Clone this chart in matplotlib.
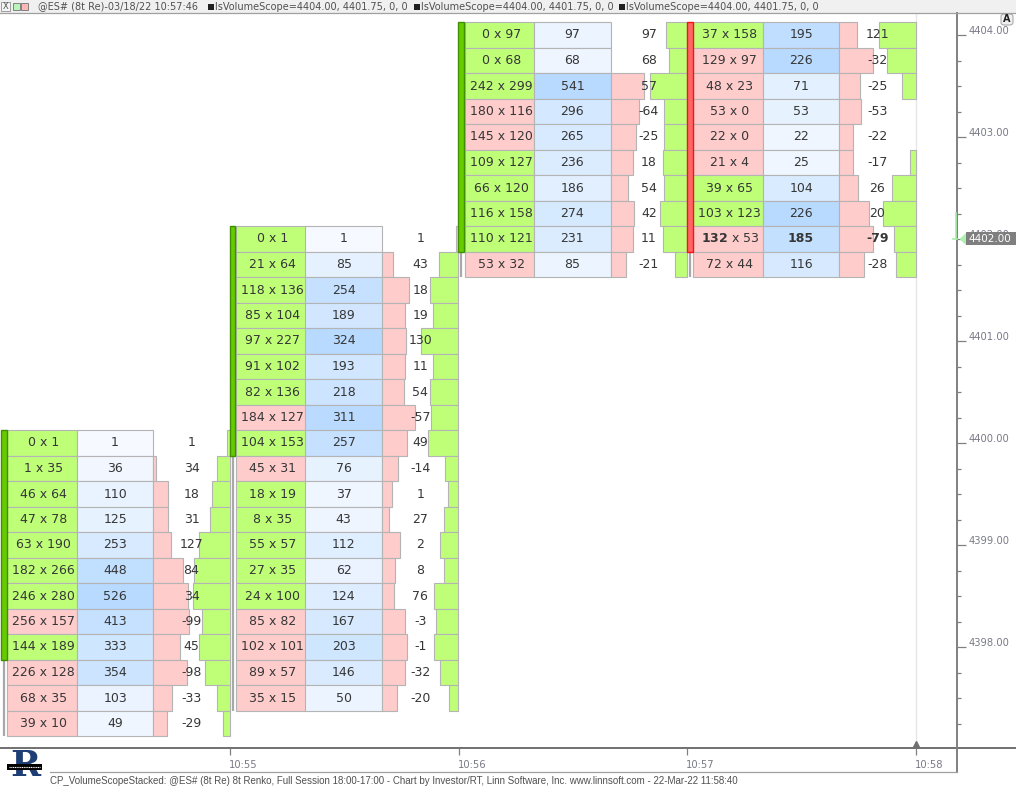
import matplotlib
matplotlib.use("Agg")
import matplotlib.pyplot as plt
from matplotlib.patches import Rectangle, Polygon, FancyBboxPatch
from matplotlib.lines import Line2D
import matplotlib.transforms as mtransforms
import numpy as np

# ---------------- data ----------------
col_minutes = [0, 1, 2, 3]          # minutes after 10:54
col_top_price = [4400.00, 4402.00, 4404.00, 4404.00]

col1_bid = [0, 1, 46, 47, 63, 182, 246, 256, 144, 226, 68, 39]
col1_ask = [1, 35, 64, 78, 190, 266, 280, 157, 189, 128, 35, 10]
col1_vol = [1, 36, 110, 125, 253, 448, 526, 413, 333, 354, 103, 49]
col1_delta = [1, 34, 18, 31, 127, 84, 34, -99, 45, -98, -33, -29]

col2_bid = [0, 21, 118, 85, 97, 91, 82, 184, 104, 45, 18, 8, 55, 27, 24, 85, 102, 89, 35]
col2_ask = [1, 64, 136, 104, 227, 102, 136, 127, 153, 31, 19, 35, 57, 35, 100, 82, 101, 57, 15]
col2_vol = [1, 85, 254, 189, 324, 193, 218, 311, 257, 76, 37, 43, 112, 62, 124, 167, 203, 146, 50]
col2_delta = [1, 43, 18, 19, 130, 11, 54, -57, 49, -14, 1, 27, 2, 8, 76, -3, -1, -32, -20]

col3_bid = [0, 0, 242, 180, 145, 109, 66, 116, 110, 53]
col3_ask = [97, 68, 299, 116, 120, 127, 120, 158, 121, 32]
col3_vol = [97, 68, 541, 296, 265, 236, 186, 274, 231, 85]
col3_delta = [97, 68, 57, -64, -25, 18, 54, 42, 11, -21]

col4_bid = [37, 129, 48, 53, 22, 21, 39, 103, 132, 72]
col4_ask = [158, 97, 23, 0, 0, 4, 65, 123, 53, 44]
col4_vol = [195, 226, 71, 53, 22, 25, 104, 226, 185, 116]
col4_delta = [121, -32, -25, -53, -22, -17, 26, 20, -79, -28]

candle_open = [4398.00, 4400.00, 4402.00, 4404.00]
candle_close = [4400.00, 4402.00, 4404.00, 4402.00]
candle_high = [4400.00, 4402.00, 4404.00, 4404.00]
candle_low = [4397.25, 4397.50, 4401.75, 4401.75]

last_price = 4402.00
tick_size = 0.25

x_tick_pos = [1, 2, 3, 4]
x_tick_labels = ["10:55", "10:56", "10:57", "10:58"]
y_major = [4398.0, 4399.0, 4400.0, 4401.0, 4402.0, 4403.0, 4404.0]

header_title = "@ES# (8t Re)-03/18/22 10:57:46"
header_study = "lsVolumeScope=4404.00, 4401.75, 0, 0"
footer_text = ("CP_VolumeScopeStacked: @ES# (8t Re) 8t Renko, Full Session 18:00-17:00 - "
               "Chart by Investor/RT, Linn Software, Inc. www.linnsoft.com - 22-Mar-22 11:58:40")

columns = [
    (col1_bid, col1_ask, col1_vol, col1_delta),
    (col2_bid, col2_ask, col2_vol, col2_delta),
    (col3_bid, col3_ask, col3_vol, col3_delta),
    (col4_bid, col4_ask, col4_vol, col4_delta),
]

# ---------------- geometry / style ----------------
W, H = 1016, 789
PX_PER_MIN = 228.67
X0_PX = 1.33            # pixel of 10:54
PX_PER_PT = 102.0       # pixels per price point
Y_REF_PX, Y_REF = 35.0, 4404.0
AX_L, AX_R, AX_T, AX_B = 0.0, 957.0, 12.7, 747.7

GREEN = "#bfff78"
PINK = "#ffcccc"
EDGE = "#b4b4b4"
TXT = "#363636"
AXC = "#808080"

def fx(px):
    return px / W

def fy(py):
    return 1 - py / H

def dx(dpx):
    return dpx / PX_PER_MIN

fig = plt.figure(figsize=(W / 100, H / 100), dpi=100)
fig.patch.set_facecolor("white")
ax = fig.add_axes([fx(AX_L), fy(AX_B), (AX_R - AX_L) / W, (AX_B - AX_T) / H])
ax.set_xlim((AX_L - X0_PX) / PX_PER_MIN, (AX_R - X0_PX) / PX_PER_MIN)
ax.set_ylim(Y_REF - (AX_B - Y_REF_PX) / PX_PER_PT, Y_REF + (Y_REF_PX - AX_T) / PX_PER_PT)
for s in ax.spines.values():
    s.set_visible(False)

# relative pixel geometry inside a column
CAN = (-0.5, 5.5)
BID = (6.0, 75.5)
VOL = (75.5, 152.0)
DEL = (152.0, 228.3)
HALF = 37.0
lo_blue = np.array([0.965, 0.978, 1.0])
hi_blue = np.array([0.72, 0.855, 1.0])

# 10:58 faint line
ax.axvline(4, color="#e6e6e6", lw=1, zorder=0)

for ci, (bids, asks, vols, deltas) in enumerate(columns):
    c = col_minutes[ci]
    top = col_top_price[ci]
    vmax = max(vols)
    smax = max(max(bids), max(asks))
    for ri in range(len(bids)):
        p = top - ri * tick_size
        y0 = p - tick_size / 2
        b, a, v, d = bids[ri], asks[ri], vols[ri], deltas[ri]
        bold = (ci == 3 and abs(p - last_price) < 1e-9)
        # bid x ask cell
        ax.add_patch(Rectangle((c + dx(BID[0]), y0), dx(BID[1] - BID[0]), tick_size,
                               fc=GREEN if a >= b else PINK, ec=EDGE, lw=0.8, zorder=2))
        # volume cell
        t = v / vmax
        col = tuple((1 - t) * lo_blue + t * hi_blue)
        ax.add_patch(Rectangle((c + dx(VOL[0]), y0), dx(VOL[1] - VOL[0]), tick_size,
                               fc=col, ec=EDGE, lw=0.8, zorder=2))
        # bid bar (pink, left) and ask bar (green, right)
        if b > 0:
            wb = HALF * np.sqrt(b / smax)
            ax.add_patch(Rectangle((c + dx(DEL[0]), y0), dx(wb), tick_size,
                                   fc=PINK, ec=EDGE, lw=0.8, zorder=2))
        if a > 0:
            wa = HALF * np.sqrt(a / smax)
            ax.add_patch(Rectangle((c + dx(DEL[1] - wa), y0), dx(wa), tick_size,
                                   fc=GREEN, ec=EDGE, lw=0.8, zorder=2))
        # texts
        if bold:
            ba_txt = r"$\mathbf{%d}$ x %d" % (b, a)
        else:
            ba_txt = f"{b} x {a}"
        ax.text(c + dx(42.5), p, ba_txt, ha="center", va="center", fontsize=9,
                color=TXT, zorder=5)
        ax.text(c + dx((VOL[0] + VOL[1]) / 2), p, f"{v}", ha="center", va="center",
                fontsize=9, color=TXT, zorder=5, fontweight="bold" if bold else "normal")
        ax.text(c + dx((DEL[0] + DEL[1]) / 2), p, f"{d}", ha="center", va="center",
                fontsize=9, color=TXT, zorder=5, fontweight="bold" if bold else "normal")

    # candle
    o, cl, hi, lw_ = candle_open[ci], candle_close[ci], candle_high[ci], candle_low[ci]
    body_lo = min(o, cl) - tick_size / 2
    body_hi = max(o, cl) + tick_size / 2
    up = cl >= o
    wx = c + dx(2.8)
    if lw_ - tick_size / 2 < body_lo:
        ax.add_line(Line2D([wx, wx], [lw_ - tick_size / 2, body_lo], color="#a8a8a8",
                           lw=1.6, zorder=3, solid_capstyle="butt"))
    if hi + tick_size / 2 > body_hi:
        ax.add_line(Line2D([wx, wx], [body_hi, hi + tick_size / 2], color="#a8a8a8",
                           lw=1.6, zorder=3, solid_capstyle="butt"))
    ax.add_patch(Rectangle((c + dx(CAN[0]), body_lo), dx(CAN[1] - CAN[0]), body_hi - body_lo,
                           fc="#66cc00" if up else "#ff6666",
                           ec="#3f8f00" if up else "#ff1010", lw=1.0, zorder=4))

# marker at 10:58
ax.plot([4], [ax.get_ylim()[0] + 3.5 / PX_PER_PT], marker="^", color="#707070", ms=5,
        clip_on=False, zorder=6)

# ---------- y axis (right) ----------
ax.yaxis.set_ticks_position("right")
ax.set_yticks(y_major)
ax.set_yticks(np.arange(4397.25, 4404.01, 0.25), minor=True)
ax.set_yticklabels([f"{v:.2f}" for v in y_major])
ax.tick_params(axis="y", which="major", length=6.5, width=0.9, color=AXC, pad=1.5,
               labelsize=7.2, labelcolor="#7a7a88")
ax.tick_params(axis="y", which="minor", length=2.6, width=0.9, color=AXC)
for lab in ax.get_yticklabels():
    lab.set_transform(lab.get_transform() +
                      mtransforms.ScaledTranslation(0, 3.5 / 72, fig.dpi_scale_trans))

# ---------- x axis ----------
ax.set_xticks(x_tick_pos)
ax.set_xticklabels(x_tick_labels)
ax.tick_params(axis="x", which="major", length=5, width=0.9, color=AXC, pad=3.5,
               labelsize=7.2, labelcolor="#7a7a88", direction="out")
for lab in ax.get_xticklabels():
    lab.set_ha("left")
    lab.set_transform(lab.get_transform() +
                      mtransforms.ScaledTranslation(-1 / 100, 0, fig.dpi_scale_trans))

# ---------- frame lines (figure coords) ----------
ft = fig.transFigure
fig.add_artist(Line2D([0, 1], [fy(AX_B), fy(AX_B)], transform=ft, color="#707070", lw=1.4))
fig.add_artist(Line2D([fx(957.3), fx(957.3)], [fy(12.7), fy(771.7)], transform=ft,
                      color="#808080", lw=1.4))
fig.add_artist(Line2D([fx(50), fx(957.3)], [fy(771.7), fy(771.7)], transform=ft,
                      color="#a0a0a0", lw=0.9))

# ---------- current price marker ----------
bt = mtransforms.blended_transform_factory(ft, ax.transData)
pp = last_price
fig.add_artist(Rectangle((fx(966), pp - 6.5 / PX_PER_PT), fx(50), 13 / PX_PER_PT,
                         transform=bt, fc="#7f7f7f", ec="none", zorder=10))
fig.add_artist(Polygon([(fx(959.5), pp), (fx(966), pp + 6 / PX_PER_PT), (fx(966), pp - 6 / PX_PER_PT)],
                       closed=True, transform=bt, fc="#aef0ae", ec="none", zorder=10))
fig.add_artist(Line2D([fx(955.5), fx(955.5)], [pp, pp + 26 / PX_PER_PT], transform=bt,
                      color="#a6f0a6", lw=1.2, zorder=10))
fig.add_artist(Line2D([fx(952.5), fx(957)], [pp, pp], transform=bt,
                      color="#a6f0a6", lw=1.2, zorder=10))
fig.text(fx(968), fy(239.5), f"{last_price:.2f}", color="white", fontsize=7.5,
         va="center", ha="left", zorder=11)

# ---------- header ----------
fig.add_artist(Rectangle((0, fy(12.7)), 1, 12.7 / H, transform=ft, fc="#f0f0f0", ec="none", zorder=0))
fig.add_artist(Line2D([0, 1], [fy(12.7), fy(12.7)], transform=ft, color="#a0a0a0", lw=0.9))
fig.add_artist(Rectangle((fx(1), fy(11)), fx(9), 9 / H, transform=ft, fc="#f4f4f4", ec="#909090", lw=0.6))
fig.text(fx(5.5), fy(6.3), "X", fontsize=6, color="#505050", ha="center", va="center")
fig.add_artist(Rectangle((fx(13), fy(10)), fx(6.5), 7 / H, transform=ft, fc="#b8f5b8", ec="#707070", lw=0.6))
fig.add_artist(Rectangle((fx(21), fy(10)), fx(6.5), 7 / H, transform=ft, fc="#ffb8b8", ec="#707070", lw=0.6))
fig.text(fx(38), fy(6.5), header_title, fontsize=7, color="#505050", ha="left", va="center")
for sx in [208, 414, 619]:
    fig.add_artist(Rectangle((fx(sx), fy(10)), fx(6), 6.5 / H, transform=ft, fc="#202020", ec="none"))
    fig.text(fx(sx + 7), fy(6.5), header_study, fontsize=7, color="#505050", ha="left", va="center")

# "A" box
fig.add_artist(FancyBboxPatch((fx(1001), fy(25)), fx(12), 11 / H, transform=ft,
                              boxstyle="round,pad=0,rounding_size=0.003",
                              fc="#f0f0f0", ec="#a0a0a0", lw=0.7))
fig.text(fx(1007), fy(19.3), "A", fontsize=7, fontweight="bold", color="#202020",
         ha="center", va="center")

# ---------- footer + logo ----------
fig.text(fx(50), fy(781), footer_text, fontsize=7, color="#505050", ha="left", va="center",
         family="Liberation Sans")
fig.text(fx(25), fy(766), "R", fontsize=26, fontweight="bold", family="DejaVu Serif",
         color="#1d3f75", ha="center", va="center")
fig.add_artist(Rectangle((fx(7), fy(770)), fx(35), 6 / H, transform=ft, fc="black", ec="none",
                         zorder=5))
fig.add_artist(Line2D([fx(9), fx(40)], [fy(767), fy(767)], transform=ft, color="white",
                      lw=0.8, ls=(0, (1, 0.6)), zorder=6))

fig.savefig("out.png", dpi=100)
